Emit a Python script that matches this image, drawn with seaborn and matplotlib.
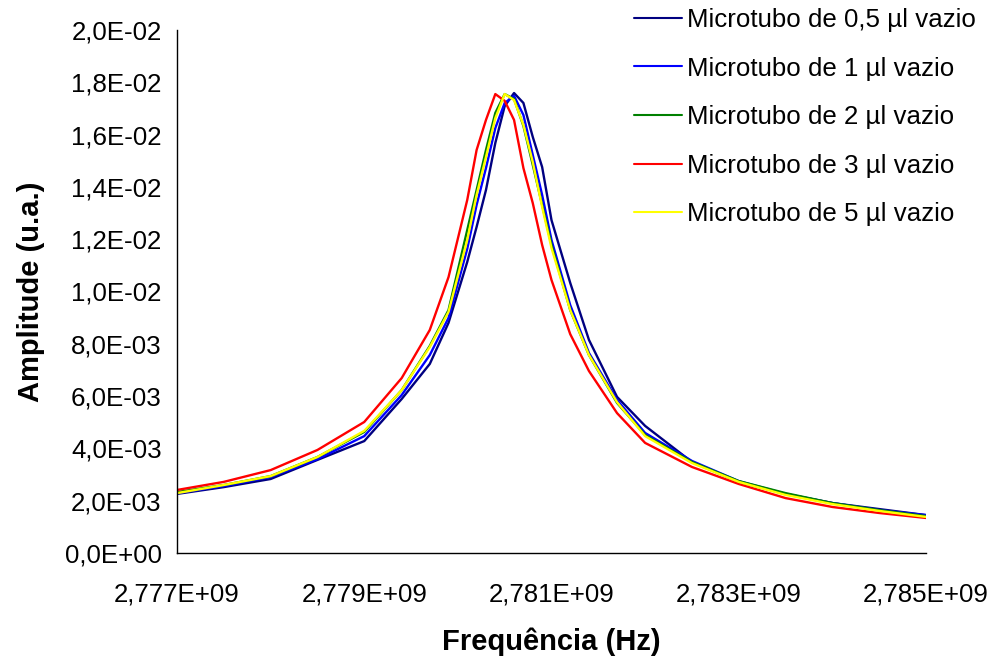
import matplotlib
matplotlib.use("Agg")
import matplotlib.pyplot as plt
import seaborn as sns
import pandas as pd
from matplotlib.ticker import FixedLocator

# Frequency grid (Hz)
freq_hz = [2.7770e9, 2.7775e9, 2.7780e9, 2.7785e9, 2.7790e9, 2.7794e9, 2.7797e9,
           2.7799e9, 2.7801e9, 2.7802e9, 2.7803e9, 2.7804e9, 2.7805e9, 2.7806e9,
           2.7807e9, 2.7808e9, 2.7809e9, 2.7810e9, 2.7812e9, 2.7814e9, 2.7817e9,
           2.7820e9, 2.7825e9, 2.7830e9, 2.7835e9, 2.7840e9, 2.7845e9, 2.7850e9]

# Amplitudes (x 1e-3 u.a.)
amp_05 = [2.26, 2.52, 2.83, 3.56, 4.28, 5.89, 7.23, 8.80, 11.13, 12.47, 13.88, 15.68,
          17.09, 17.59, 17.21, 15.91, 14.76, 12.73, 10.33, 8.15, 5.97, 4.86, 3.48,
          2.72, 2.26, 1.91, 1.68, 1.45]
amp_1 = [2.29, 2.56, 2.91, 3.59, 4.47, 6.04, 7.57, 8.99, 11.63, 13.31, 14.72, 16.25,
         17.21, 17.48, 16.75, 15.22, 13.69, 11.97, 9.48, 7.65, 5.85, 4.59, 3.52,
         2.75, 2.26, 1.91, 1.64, 1.45]
amp_2 = [2.33, 2.60, 2.94, 3.67, 4.63, 6.23, 7.92, 9.29, 12.35, 13.88, 15.41, 16.83,
         17.55, 17.36, 16.33, 14.84, 13.31, 11.78, 9.29, 7.57, 5.74, 4.51, 3.48,
         2.75, 2.29, 1.91, 1.64, 1.41]
amp_3 = [2.41, 2.72, 3.17, 3.94, 5.01, 6.69, 8.53, 10.55, 13.50, 15.41, 16.56, 17.55,
         17.29, 16.56, 14.72, 13.38, 11.78, 10.44, 8.37, 6.96, 5.35, 4.21, 3.29,
         2.64, 2.10, 1.76, 1.53, 1.34]
amp_5 = [2.29, 2.60, 2.94, 3.67, 4.67, 6.23, 7.88, 9.22, 11.97, 13.69, 15.14, 16.63,
         17.55, 17.32, 16.37, 14.95, 13.23, 11.66, 9.29, 7.57, 5.77, 4.47, 3.44,
         2.72, 2.22, 1.87, 1.61, 1.38]

series_names = ["Microtubo de 0,5 µl vazio", "Microtubo de 1 µl vazio",
                "Microtubo de 2 µl vazio", "Microtubo de 3 µl vazio",
                "Microtubo de 5 µl vazio"]
series_colors = ["#000080", "#0000FF", "#008000", "#FF0000", "#FFFF00"]

xtick_values = [2.777e9, 2.779e9, 2.781e9, 2.783e9, 2.785e9]
xtick_labels = ["2,777E+09", "2,779E+09", "2,781E+09", "2,783E+09", "2,785E+09"]
ytick_values = [0.0, 0.002, 0.004, 0.006, 0.008, 0.010, 0.012, 0.014, 0.016, 0.018, 0.020]
ytick_labels = ["0,0E+00", "2,0E-03", "4,0E-03", "6,0E-03", "8,0E-03", "1,0E-02",
                "1,2E-02", "1,4E-02", "1,6E-02", "1,8E-02", "2,0E-02"]

rows = []
for name, amps in zip(series_names, [amp_05, amp_1, amp_2, amp_3, amp_5]):
    for f, a in zip(freq_hz, amps):
        rows.append({"freq": f, "amp": a * 1e-3, "serie": name})
df = pd.DataFrame(rows)

sns.set_style("white")
plt.rcParams["font.family"] = ["Liberation Sans", "DejaVu Sans"]
plt.rcParams["text.color"] = "black"
plt.rcParams["axes.labelcolor"] = "black"

fig = plt.figure(figsize=(9.96, 6.61), dpi=100)
ax = fig.add_axes([177 / 996, 1 - 553 / 661, (926 - 177) / 996, (553 - 30) / 661])

sns.lineplot(data=df, x="freq", y="amp", hue="serie", hue_order=series_names,
             palette=dict(zip(series_names, series_colors)), linewidth=1.7,
             ax=ax, legend=True, estimator=None, sort=True)

ax.set_xlim(2.777e9, 2.785e9)
ax.set_ylim(0, 0.02)
ax.xaxis.set_major_locator(FixedLocator(xtick_values))
ax.set_xticklabels(xtick_labels)
ax.yaxis.set_major_locator(FixedLocator(ytick_values))
ax.set_yticklabels(ytick_labels)

for s in ["top", "right"]:
    ax.spines[s].set_visible(False)
for s in ["left", "bottom"]:
    ax.spines[s].set_color("black")
    ax.spines[s].set_linewidth(1.0)

ax.tick_params(axis="both", which="major", direction="out", length=7, width=1,
               color="black", labelsize=18.6, labelcolor="black")
ax.tick_params(axis="x", pad=14)
ax.tick_params(axis="y", pad=4)
ax.grid(False)

ax.set_xlabel("Frequência (Hz)", fontsize=21, fontweight="bold", labelpad=15,
              color="black")
ax.set_ylabel("Amplitude (u.a.)", fontsize=21, fontweight="bold", labelpad=14.5,
              color="black")

handles, labels = ax.get_legend_handles_labels()
leg = ax.legend(handles, labels, loc="upper left", bbox_to_anchor=(634 / 996, 1 - 8 / 661),
                bbox_transform=fig.transFigure, frameon=False, fontsize=18.6,
                handlelength=1.85, handletextpad=0.22, labelspacing=0.95,
                borderpad=0, borderaxespad=0)
for t in leg.get_texts():
    t.set_color("black")
for h in leg.legend_handles:
    h.set_linewidth(1.5)

fig.savefig("out.png", dpi=100, facecolor="white")
